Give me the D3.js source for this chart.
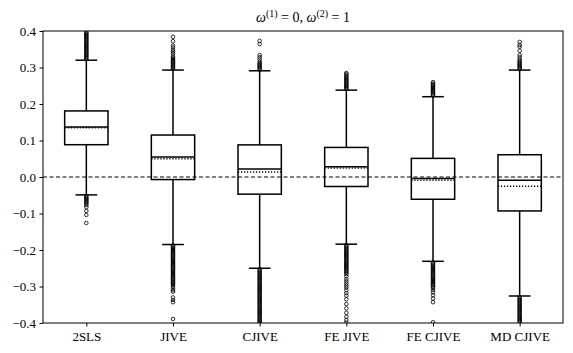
<!DOCTYPE html>
<html><head><meta charset="utf-8">
<script src="https://cdn.jsdelivr.net/npm/d3@7"></script>
<style>body{margin:0;background:#fff}svg{display:block}svg text{font-family:"Liberation Serif","Times New Roman",serif !important}</style>
</head><body>
<svg id="c" width="573" height="353"></svg>
<script>
const categories = ["2SLS","JIVE","CJIVE","FE JIVE","FE CJIVE","MD CJIVE"];
const q1      = [0.0885, -0.007, -0.047, -0.026, -0.061, -0.093];
const q3      = [0.181, 0.115, 0.088, 0.081, 0.051, 0.061];
const medians = [0.137, 0.055, 0.022, 0.028, -0.004, -0.009];
const means   = [0.135, 0.050, 0.014, 0.025, -0.009, -0.025];
const whiskLo = [-0.049, -0.185, -0.250, -0.184, -0.231, -0.326];
const whiskHi = [0.320, 0.293, 0.291, 0.238, 0.220, 0.293];
const outliersHi = [
  [0.323,0.326,0.329,0.332,0.335,0.338,0.341,0.344,0.347,0.350,0.353,0.356,0.359,0.362,0.365,0.368,0.371,0.374,0.377,0.380,0.383,0.386,0.389,0.392,0.395,0.398],
  [0.296,0.299,0.302,0.305,0.308,0.311,0.314,0.317,0.320,0.323,0.326,0.330,0.338,0.343,0.348,0.355,0.360,0.372,0.384],
  [0.294,0.297,0.300,0.303,0.306,0.309,0.312,0.316,0.322,0.328,0.334,0.364,0.373],
  [0.241,0.244,0.247,0.250,0.253,0.256,0.259,0.262,0.265,0.268,0.271,0.274,0.278,0.282,0.285],
  [0.223,0.226,0.229,0.232,0.235,0.238,0.241,0.244,0.247,0.250,0.253,0.256,0.260],
  [0.296,0.299,0.302,0.305,0.308,0.311,0.314,0.318,0.322,0.328,0.334,0.346,0.357,0.362,0.370]
];
const outliersLo = [
  [-0.052,-0.055,-0.058,-0.061,-0.064,-0.067,-0.070,-0.073,-0.077,-0.083,-0.093,-0.104,-0.126],
  [-0.188,-0.191,-0.194,-0.197,-0.200,-0.203,-0.206,-0.209,-0.212,-0.215,-0.218,-0.221,-0.224,-0.227,-0.230,-0.233,-0.236,-0.239,-0.242,-0.245,-0.248,-0.251,-0.254,-0.257,-0.260,-0.263,-0.266,-0.269,-0.272,-0.275,-0.278,-0.281,-0.284,-0.287,-0.290,-0.293,-0.296,-0.300,-0.305,-0.310,-0.314,-0.330,-0.337,-0.343,-0.389],
  [-0.253,-0.256,-0.259,-0.262,-0.265,-0.268,-0.271,-0.274,-0.277,-0.280,-0.283,-0.286,-0.289,-0.292,-0.295,-0.298,-0.301,-0.304,-0.307,-0.310,-0.313,-0.316,-0.319,-0.322,-0.325,-0.328,-0.331,-0.334,-0.337,-0.340,-0.343,-0.346,-0.349,-0.352,-0.355,-0.358,-0.361,-0.364,-0.367,-0.370,-0.373,-0.376,-0.379,-0.382,-0.385,-0.388,-0.391,-0.394,-0.397,-0.400],
  [-0.187,-0.190,-0.193,-0.196,-0.199,-0.202,-0.205,-0.208,-0.211,-0.214,-0.217,-0.220,-0.223,-0.226,-0.229,-0.232,-0.235,-0.238,-0.241,-0.244,-0.247,-0.250,-0.253,-0.256,-0.259,-0.262,-0.266,-0.272,-0.280,-0.286,-0.292,-0.298,-0.303,-0.310,-0.318,-0.325,-0.335,-0.348,-0.360,-0.372,-0.383,-0.392,-0.399],
  [-0.234,-0.237,-0.240,-0.243,-0.246,-0.249,-0.252,-0.255,-0.258,-0.261,-0.264,-0.267,-0.270,-0.273,-0.276,-0.279,-0.282,-0.285,-0.288,-0.291,-0.294,-0.297,-0.300,-0.304,-0.310,-0.316,-0.324,-0.333,-0.343,-0.398],
  [-0.329,-0.332,-0.335,-0.338,-0.341,-0.344,-0.347,-0.350,-0.353,-0.356,-0.359,-0.362,-0.365,-0.368,-0.371,-0.374,-0.377,-0.380,-0.383,-0.386,-0.389,-0.392,-0.395,-0.398]
];
const yTicks = [-0.4,-0.3,-0.2,-0.1,0.0,0.1,0.2,0.3,0.4];

const svg = d3.select("#c");
const m = {l:43, t:31, w:520, h:292};
const g = svg.append("g").attr("transform",`translate(${m.l},${m.t})`);
const x = d3.scalePoint().domain(categories).range([0,m.w]).padding(0.5);
const y = d3.scaleLinear().domain([-0.4,0.4]).range([m.h,0]);
const step = x.step(), bw = step*0.5, cw = step*0.25;
const font = "Liberation Serif";

g.append("clipPath").attr("id","clip").append("rect").attr("width",m.w).attr("height",m.h);
const pl = g.append("g").attr("clip-path","url(#clip)");

// zero line
pl.append("line").attr("x1",0).attr("x2",m.w).attr("y1",y(0)).attr("y2",y(0))
  .attr("stroke","#000").attr("stroke-width",1.1).attr("stroke-dasharray","4,2.5");

categories.forEach((c,i)=>{
  const cx = x(c);
  const b = pl.append("g").attr("stroke","#000").attr("fill","none").attr("stroke-width",1.5);
  b.append("line").attr("x1",cx).attr("x2",cx).attr("y1",y(q3[i])).attr("y2",y(whiskHi[i]));
  b.append("line").attr("x1",cx).attr("x2",cx).attr("y1",y(q1[i])).attr("y2",y(whiskLo[i]));
  b.append("line").attr("x1",cx-cw/2).attr("x2",cx+cw/2).attr("y1",y(whiskHi[i])).attr("y2",y(whiskHi[i]));
  b.append("line").attr("x1",cx-cw/2).attr("x2",cx+cw/2).attr("y1",y(whiskLo[i])).attr("y2",y(whiskLo[i]));
  b.append("rect").attr("x",cx-bw/2).attr("width",bw).attr("y",y(q3[i])).attr("height",y(q1[i])-y(q3[i]));
  b.append("line").attr("x1",cx-bw/2).attr("x2",cx+bw/2).attr("y1",y(medians[i])).attr("y2",y(medians[i]));
  b.append("line").attr("x1",cx-bw/2).attr("x2",cx+bw/2).attr("y1",y(means[i])).attr("y2",y(means[i]))
    .attr("stroke-dasharray","1.2,1.8");
  const pts = outliersHi[i].concat(outliersLo[i]);
  pl.append("g").selectAll("circle").data(pts).join("circle")
    .attr("cx",cx).attr("cy",d=>y(d)).attr("r",1.8)
    .attr("fill","none").attr("stroke","#000").attr("stroke-width",0.8);
});

// frame
g.append("rect").attr("width",m.w).attr("height",m.h).attr("fill","none").attr("stroke","#000").attr("stroke-width",1);

// axes
const ya = g.append("g").call(d3.axisLeft(y).tickValues(yTicks).tickSize(3.5).tickPadding(3.5)
  .tickFormat(d=>d3.format(".1f")(d).replace("-","\u2212")));
const xa = g.append("g").attr("transform",`translate(0,${m.h})`).call(d3.axisBottom(x).tickSize(3.5).tickPadding(5));
[ya,xa].forEach(a=>{
  a.attr("font-family",font);
  a.select(".domain").remove();
  a.selectAll("line").attr("stroke","#000").attr("stroke-width",1);
  a.selectAll("text").attr("font-family",font).attr("font-size",13).attr("fill","#000");
});

// title
const t = svg.append("text").attr("x",m.l+m.w/2).attr("y",22).attr("text-anchor","middle")
  .attr("font-family",font).attr("font-size",14);
t.append("tspan").attr("font-style","italic").text("ω");
t.append("tspan").attr("dy",-5.5).attr("font-size",10).text("(1)");
t.append("tspan").attr("dy",5.5).text(" = 0, ");
t.append("tspan").attr("font-style","italic").text("ω");
t.append("tspan").attr("dy",-5.5).attr("font-size",10).text("(2)");
t.append("tspan").attr("dy",5.5).text(" = 1");
</script>
</body></html>
